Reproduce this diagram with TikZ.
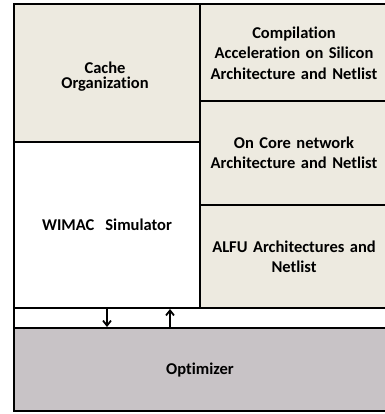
\documentclass[tikz,border=0pt]{standalone}
\usepackage{fontspec}
\setmainfont{Carlito}[Ligatures=NoCommon]
\usetikzlibrary{arrows.meta}
\definecolor{beige}{HTML}{EDEAE0}
\definecolor{optgray}{HTML}{C8C3C6}
\begin{document}
\begin{tikzpicture}[x=1pt,y=-1pt,
  blk/.style={draw=black,line width=2.4pt},
  lbl/.style={font=\bfseries\fontsize{16.5}{20.5}\selectfont,align=center,text width=185pt},
  arr/.style={line width=1.8pt,-{Straight Barb[length=5pt,width=8pt]}}]
\useasboundingbox (0,0) rectangle (384,414);
% boxes
\filldraw[blk,fill=optgray] (14,328) rectangle (388,411);
\draw[blk] (14,308) rectangle (388,328);
\filldraw[blk,fill=white] (14,142) rectangle (200,308);
\filldraw[blk,fill=beige] (14,4) rectangle (200,142);
\filldraw[blk,fill=beige] (200,4) rectangle (388,101);
\filldraw[blk,fill=beige] (200,101) rectangle (388,205);
\filldraw[blk,fill=beige] (200,205) rectangle (388,308);
% labels
\node[lbl,font=\bfseries\fontsize{16.5}{15}\selectfont] (cache) at (105,77) {Cache\\Organization};
\node[lbl] (comp) at (294,53) {Compilation\\Acceleration on Silicon\\Architecture and Netlist};
\node[lbl] (core) at (294,153) {On Core network\\Architecture and Netlist};
\node[lbl] (alfu) at (294,257) {ALFU Architectures and\\Netlist};
\node[lbl] (wimac) at (107,225) {WIMAC\ \ Simulator};
\node[lbl] (opt) at (200,370) {Optimizer};
% arrows
\coordinate (d1) at (107,309);
\coordinate (d2) at (107,327);
\coordinate (u1) at (170,327);
\coordinate (u2) at (170,309);
\draw[arr] (d1) -- (d2);
\draw[arr] (u1) -- (u2);
\end{tikzpicture}
\end{document}
